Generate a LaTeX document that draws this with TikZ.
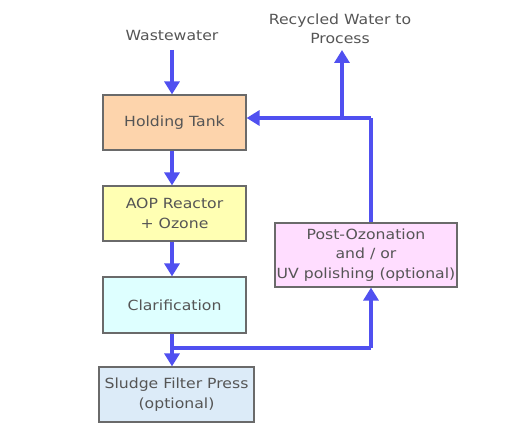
\documentclass[tikz,border=0pt]{standalone}
\usepackage{fontspec}
\setmainfont{DejaVu Sans}[FakeStretch=1.12]
\usetikzlibrary{arrows.meta}
\definecolor{flow}{HTML}{5050F0}
\definecolor{txt}{HTML}{555555}
\definecolor{edge}{HTML}{6A6A6A}
\definecolor{cOrange}{HTML}{FDD4AC}
\definecolor{cYellow}{HTML}{FFFFB3}
\definecolor{cCyan}{HTML}{DEFFFF}
\definecolor{cBlue}{HTML}{DCEBF8}
\definecolor{cPink}{HTML}{FFDDFF}
\begin{document}
\begin{tikzpicture}[x=1pt,y=-1pt,
  box/.style={draw=edge,line width=1.2pt,text=txt,align=center,inner sep=0pt,
    font=\fontsize{14}{19.5}\selectfont},
  lbl/.style={text=txt,align=center,font=\fontsize{14}{19.5}\selectfont},
  flowline/.style={draw=flow,line width=3.5pt},
  flowarrow/.style={flowline,-{Triangle[length=13pt,width=15pt]}}]
\useasboundingbox (0,0) rectangle (520,430);
\node[lbl] (ww) at (172,35) {Wastewater};
\node[lbl] (rw) at (340,29) {Recycled Water to\\Process};
\node[box,fill=cOrange,minimum width=143pt,minimum height=55pt] (ht) at (174.5,122.5) {Holding Tank};
\node[box,fill=cYellow,minimum width=143pt,minimum height=55pt] (aop) at (174.5,213.5) {AOP Reactor\\+ Ozone};
\node[box,fill=cCyan,minimum width=143pt,minimum height=56pt] (cl) at (174.5,305) {Clarification};
\node[box,fill=cBlue,minimum width=155pt,minimum height=55pt] (sl) at (176.5,394.5) {Sludge Filter Press\\(optional)};
\node[box,fill=cPink,minimum width=182pt,minimum height=64pt] (po) at (366,255) {Post-Ozonation\\and / or\\UV polishing (optional)};
\coordinate (wwb) at (172,50);
\coordinate (jr) at (371,118);
\coordinate (jup) at (342,118);
\coordinate (rwb) at (342,50);
\coordinate (jc) at (172,348);
\coordinate (jp) at (371,348);
\draw[flowarrow] (wwb) -- (ht.north -| wwb);
\draw[flowarrow] (ht.south -| wwb) -- (aop.north -| wwb);
\draw[flowarrow] (aop.south -| wwb) -- (cl.north -| wwb);
\draw[flowarrow] (cl.south -| wwb) -- (sl.north -| wwb);
\draw[flowline] (jc) -- (jp);
\draw[flowarrow] (jp) -- (po.south -| jp);
\draw[flowline] (po.north -| jr) -- (jr);
\draw[flowarrow] (jr) -- (ht.east |- jr);
\draw[flowarrow] (jup) -- (rwb);
\end{tikzpicture}
\end{document}
